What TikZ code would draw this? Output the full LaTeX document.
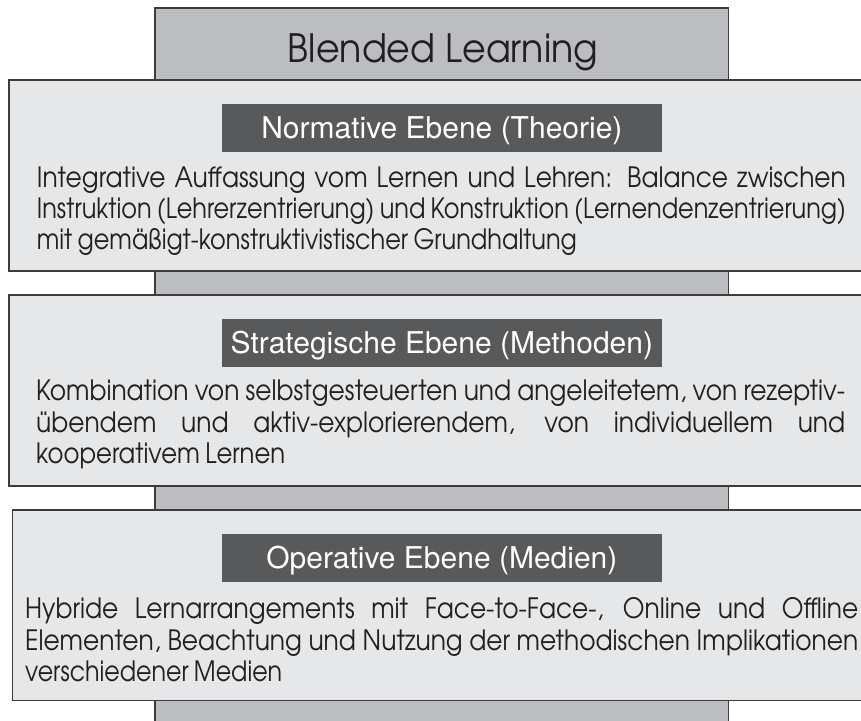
\documentclass[tikz,border=0pt]{standalone}
\usepackage{fontspec}
\usepackage{graphicx}
\newfontfamily\bodyfont{texgyreadventor-regular.otf}[FakeStretch=0.89,WordSpace=0.8]
\newfontfamily\titlefont{texgyreadventor-regular.otf}
\newfontfamily\hdrfont{TeX Gyre Heros}
\definecolor{colgray}{HTML}{BCBDC0}
\definecolor{boxgray}{HTML}{E6E7E8}
\definecolor{hdrgray}{HTML}{58595B}
\definecolor{linegray}{HTML}{3C3C3C}
\definecolor{ink}{HTML}{231F20}
\newlength\fitw
\newcommand\fitline[2]{\settowidth\fitw{#2}\ifdim\fitw>#1\relax\resizebox{#1}{\height}{#2}\else\makebox[#1][s]{#2}\fi}
\newcommand\fixline[2]{\resizebox{#1}{\height}{#2}}
\tikzset{
  colstyle/.style={fill=colgray,draw=linegray,line width=1.2pt},
  boxstyle/.style={fill=boxgray,draw=linegray,line width=1.2pt},
  hdr/.style={fill=hdrgray,text=white,font=\hdrfont\fontsize{30}{30}\selectfont,
    minimum width=440.3pt,minimum height=48pt,inner sep=0pt,text height=21.5pt,text depth=0pt},
  bodytext/.style={anchor=base west,inner sep=0pt,text=ink,font=\bodyfont\fontsize{28}{31}\selectfont},
  titletext/.style={anchor=base,inner sep=0pt,text=ink,font=\titlefont\fontsize{39}{40}\selectfont}
}
\begin{document}
\begin{tikzpicture}[x=1pt,y=-1pt]
\useasboundingbox (0,0) rectangle (861,720);
\clip (0,0) rectangle (861,720);
% central column
\draw[colstyle] (155,8) rectangle (728.5,740);
% layer boxes
\draw[boxstyle] (9,80) rectangle (880,271);
\draw[boxstyle] (9,295) rectangle (880,486);
\draw[boxstyle] (12.3,510) rectangle (880,700.7);
% title
\node[titletext] (title) at (443,62) {\fixline{310pt}{Blended Learning}};
% headers
\node[hdr] (h1) at (441.85,128) {Normative Ebene (Theorie)};
\node[hdr] (h2) at (441.85,343) {Strategische Ebene (Methoden)};
\node[hdr] (h3) at (441.85,558) {Operative Ebene (Medien)};
% box 1 text
\node[bodytext] (t1a) at (36.7,187) {\fitline{809pt}{Integrative Auffassung vom Lernen und Lehren: Balance zwischen}};
\node[bodytext] (t1b) at (36.7,218.5) {\fitline{809pt}{Instruktion (Lehrerzentrierung) und Konstruktion (Lernendenzentrierung)}};
\node[bodytext] (t1c) at (36.7,249.5) {\fixline{540pt}{mit gemäßigt-konstruktivistischer Grundhaltung}};
% box 2 text
\node[bodytext] (t2a) at (36,400.5) {\fitline{809pt}{Kombination von selbstgesteuerten und angeleitetem, von rezeptiv-}};
\node[bodytext] (t2b) at (36,432) {\fitline{809pt}{übendem und aktiv-explorierendem, von individuellem und}};
\node[bodytext] (t2c) at (36,463.5) {\fixline{249pt}{kooperativem Lernen}};
% box 3 text
\node[bodytext] (t3a) at (25,618.3) {\fitline{833pt}{Hybride Lernarrangements mit Face-to-Face-, Online und Offline}};
\node[bodytext] (t3b) at (25,650) {\fitline{833pt}{Elementen, Beachtung und Nutzung der methodischen Implikationen}};
\node[bodytext] (t3c) at (25,681) {\fixline{257pt}{verschiedener Medien}};
\end{tikzpicture}
\end{document}
